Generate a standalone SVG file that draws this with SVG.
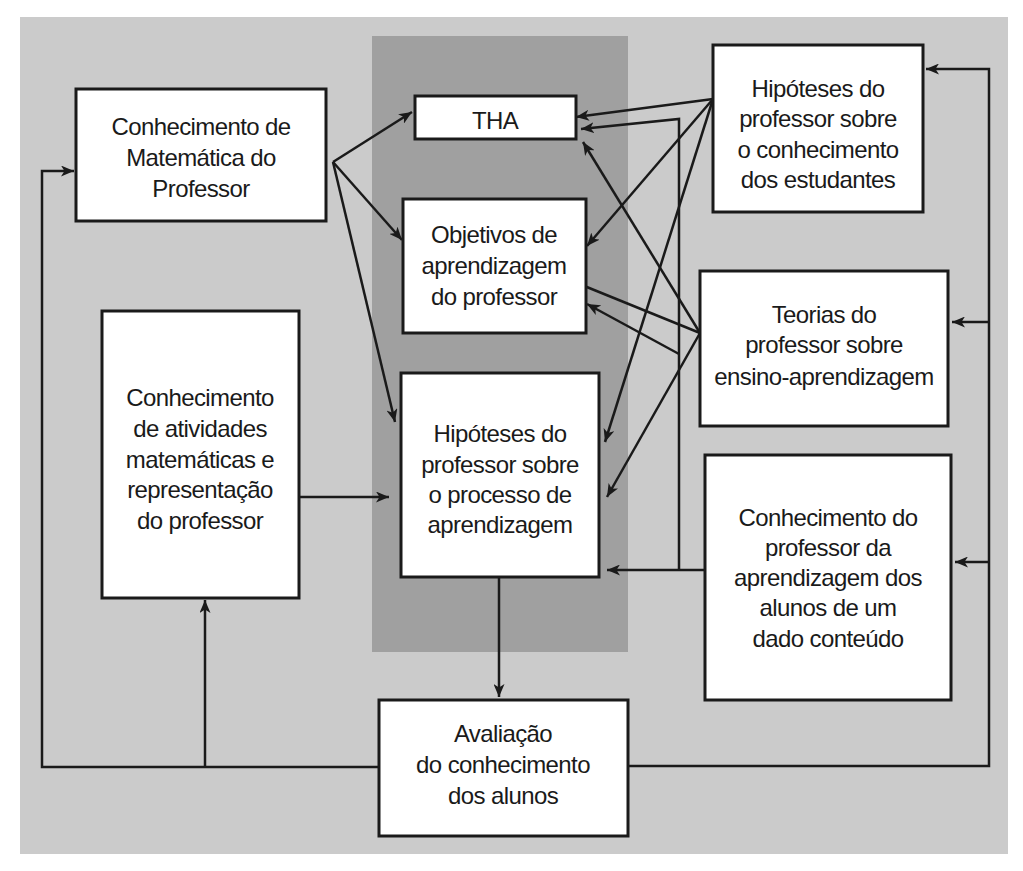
<svg xmlns="http://www.w3.org/2000/svg" width="1023" height="871" viewBox="0 0 1023 871">
<defs>
<style>
.box{fill:#ffffff;stroke:#1a1a1a;stroke-width:3}
.t{font-family:"Liberation Sans",Arial,sans-serif;font-size:24px;letter-spacing:-0.6px;fill:#1a1a1a;text-anchor:middle}
.c{fill:none;stroke:#1a1a1a;stroke-width:2.5}
.a{marker-end:url(#ah)}
</style>
<marker id="ah" markerUnits="userSpaceOnUse" markerWidth="14" markerHeight="11" refX="13" refY="5.5" orient="auto" viewBox="0 0 14 11">
<path d="M0,0 L13,5.5 L0,11 L3.5,5.5 Z" fill="#1a1a1a"/>
</marker>
</defs>
<rect x="0" y="0" width="1023" height="871" fill="#ffffff"/>
<rect x="20" y="17" width="988" height="837" fill="#cbcbcb"/>
<rect x="372" y="36" width="256" height="616" fill="#a0a0a0"/>

<g id="connectors">
<line class="c a" x1="333" y1="162" x2="412" y2="112"/>
<line class="c a" x1="333" y1="162" x2="402" y2="240"/>
<line class="c a" x1="333" y1="162" x2="395" y2="422"/>
<line class="c a" x1="299" y1="497" x2="389" y2="497"/>
<line class="c a" x1="499" y1="577" x2="499" y2="697"/>
<polyline class="c a" points="379,767 42,767 42,171 74,171"/>
<line class="c a" x1="205" y1="767" x2="205" y2="600"/>
<polyline class="c a" points="628,766 989,766 989,69 926,69"/>
<line class="c a" x1="989" y1="322" x2="952" y2="322"/>
<line class="c a" x1="989" y1="562" x2="955" y2="562"/>
<line class="c a" x1="705" y1="570" x2="607" y2="570"/>
<polyline class="c a" points="679,570 679,119 581,129"/>
<line class="c a" x1="679" y1="354" x2="587" y2="304"/>
<line class="c a" x1="713" y1="99" x2="576" y2="117"/>
<line class="c a" x1="713" y1="99" x2="587" y2="246"/>
<line class="c a" x1="713" y1="99" x2="605" y2="442"/>
<line class="c a" x1="700" y1="333" x2="583" y2="142"/>
<line class="c a" x1="700" y1="333" x2="572" y2="281"/>
<line class="c a" x1="700" y1="333" x2="607" y2="497"/>
</g>

<g id="conhecimento-matematica">
<rect class="box" x="76" y="89" width="250" height="132"/>
<text class="t" x="201" y="135">Conhecimento de</text>
<text class="t" x="201" y="166">Matemática do</text>
<text class="t" x="201" y="197">Professor</text>
</g>

<g id="tha">
<rect class="box" x="415" y="96" width="161" height="43"/>
<text class="t" x="495" y="129">THA</text>
</g>

<g id="objetivos">
<rect class="box" x="403" y="199" width="183" height="134"/>
<text class="t" x="494" y="243">Objetivos de</text>
<text class="t" x="494" y="274">aprendizagem</text>
<text class="t" x="494" y="305">do professor</text>
</g>

<g id="hipoteses-processo">
<rect class="box" x="401" y="373" width="198" height="204"/>
<text class="t" x="500" y="442">Hipóteses do</text>
<text class="t" x="500" y="473">professor sobre</text>
<text class="t" x="500" y="503">o processo de</text>
<text class="t" x="500" y="533">aprendizagem</text>
</g>

<g id="conhecimento-atividades">
<rect class="box" x="102" y="311" width="197" height="287"/>
<text class="t" x="200" y="406">Conhecimento</text>
<text class="t" x="200" y="437">de atividades</text>
<text class="t" x="200" y="468">matemáticas e</text>
<text class="t" x="200" y="498">representação</text>
<text class="t" x="200" y="529">do professor</text>
</g>

<g id="hipoteses-estudantes">
<rect class="box" x="713" y="45" width="210" height="167"/>
<text class="t" x="818" y="97">Hipóteses do</text>
<text class="t" x="818" y="127">professor sobre</text>
<text class="t" x="818" y="158">o conhecimento</text>
<text class="t" x="818" y="188">dos estudantes</text>
</g>

<g id="teorias">
<rect class="box" x="700" y="271" width="248" height="155"/>
<text class="t" x="824" y="323">Teorias do</text>
<text class="t" x="824" y="353">professor sobre</text>
<text class="t" x="824" y="385">ensino-aprendizagem</text>
</g>

<g id="conhecimento-aprendizagem">
<rect class="box" x="705" y="455" width="246" height="245"/>
<text class="t" x="828" y="526">Conhecimento do</text>
<text class="t" x="828" y="556">professor da</text>
<text class="t" x="828" y="586">aprendizagem dos</text>
<text class="t" x="828" y="616">alunos de um</text>
<text class="t" x="828" y="647">dado conteúdo</text>
</g>

<g id="avaliacao">
<rect class="box" x="379" y="700" width="249" height="136"/>
<text class="t" x="503" y="742">Avaliação</text>
<text class="t" x="503" y="773">do conhecimento</text>
<text class="t" x="503" y="804">dos alunos</text>
</g>
</svg>
